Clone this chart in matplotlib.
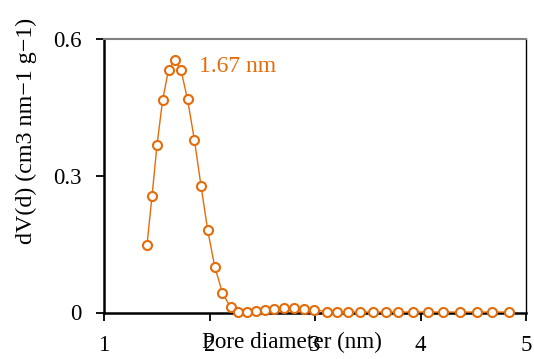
import matplotlib
matplotlib.use("Agg")
import matplotlib.pyplot as plt

pore_diameter = [1.408, 1.455, 1.503, 1.556, 1.612, 1.673, 1.730, 1.792, 1.857, 1.920, 1.983, 2.050, 2.123, 2.200,
                 2.273, 2.353, 2.438, 2.526, 2.614, 2.706, 2.797, 2.892, 2.993, 3.110, 3.210, 3.316,
                 3.430, 3.552, 3.673, 3.790, 3.930, 4.067, 4.216, 4.374, 4.532, 4.680, 4.840]
dv = [0.149, 0.255, 0.368, 0.466, 0.532, 0.554, 0.531, 0.467, 0.378, 0.277, 0.180, 0.100, 0.043, 0.011,
      0.001, 0.001, 0.003, 0.005, 0.008, 0.010, 0.010, 0.008, 0.006, 0.002, 0.001, 0.001,
      0.001, 0.001, 0.001, 0.001, 0.001, 0.001, 0.001, 0.001, 0.001, 0.001, 0.001]
x_ticks = [1, 2, 3, 4, 5]
y_ticks = [0, 0.3, 0.6]
y_tick_labels = ["0", "0.3", "0.6"]
peak_label = "1.67 nm"

orange = "#E46C0A"
plt.rcParams['font.family'] = ['Liberation Serif', 'DejaVu Serif']

fig = plt.figure(figsize=(5.34, 3.59), dpi=100)
ax = fig.add_axes([104/534, (359-312.5)/359, 422/534, 273.8/359])

ax.plot(pore_diameter, dv, color=orange, lw=1.0, marker='o', ms=6.5,
        mfc='white', mec=orange, mew=1.5, zorder=3, clip_on=False)

ax.set_xlim(1, 5)
ax.set_ylim(0, 0.6)
ax.set_xticks(x_ticks)
ax.set_yticks(y_ticks)
ax.set_yticklabels(y_tick_labels)
ax.tick_params(axis='both', direction='out', length=6, width=1.3, labelsize=16.5, colors='black')
ax.tick_params(axis='x', pad=10)
ax.tick_params(axis='y', pad=10)

for s in ['left', 'bottom']:
    ax.spines[s].set_linewidth(1.8)
    ax.spines[s].set_color('black')
ax.spines['top'].set_color('#808080')
ax.spines['top'].set_linewidth(1.5)
ax.spines['right'].set_color('black')
ax.spines['right'].set_linewidth(1.0)

ax.set_xlabel("Pore diameter (nm)", fontsize=16.7)
ax.xaxis.set_label_coords((292-104)/422, (312.5-332)/273.8)
ax.set_ylabel("dV(d) (cm3 nm\u22121 g\u22121)", fontsize=17.3)
ax.yaxis.set_label_coords((26-104)/422, (312.5-130.5)/273.8)
ax.yaxis.label.set_va('center')

ax.text(1.9, 0.5385, peak_label, color=orange, fontsize=17, va='center', ha='left')

fig.savefig("out.png", dpi=100)
